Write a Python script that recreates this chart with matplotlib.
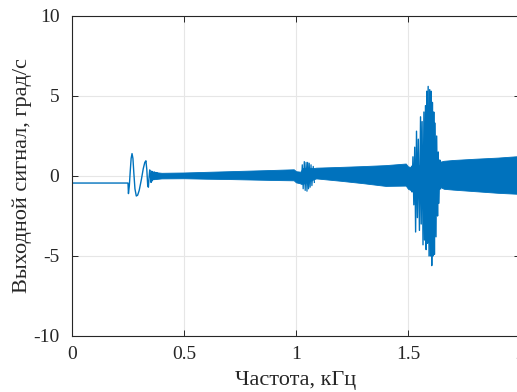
import numpy as np
import matplotlib
matplotlib.use("Agg")
import matplotlib.pyplot as plt

plt.rcParams['font.family'] = ['Liberation Serif', 'DejaVu Serif']
plt.rcParams['axes.unicode_minus'] = False

# start-up transient (frequency kHz, output deg/s)
trans_f = [0.0, 0.250, 0.252, 0.256, 0.260, 0.264, 0.268, 0.272, 0.276, 0.281,
           0.287, 0.293, 0.300, 0.310, 0.318, 0.325, 0.330, 0.334, 0.338, 0.341,
           0.344, 0.347, 0.350, 0.353, 0.356, 0.359, 0.362, 0.365, 0.368, 0.371,
           0.374, 0.377, 0.380]
trans_v = [-0.44, -0.44, -1.1, -0.6, 0.3, 1.1, 1.4, 1.1, 0.2, -0.8,
           -1.25, -1.2, -0.9, -0.2, 0.45, 0.85, 0.95, 0.4, -0.6, -0.7,
           -0.1, 0.38, 0.0, -0.4, 0.3, -0.3, 0.25, -0.2, 0.25, -0.15,
           0.22, -0.15, 0.2]

# envelope of the dense oscillation band
band_f = [0.365, 0.40, 0.50, 0.60, 0.70, 0.80, 0.90, 0.99, 1.00, 1.02, 1.03,
          1.08, 1.09, 1.20, 1.30, 1.40, 1.49, 1.50, 1.515, 1.52, 1.645, 1.66,
          1.70, 1.80, 1.90, 2.00]
band_hi = [0.25, 0.2, 0.22, 0.26, 0.3, 0.34, 0.38, 0.42, 0.3, 0.27, 0.5,
           0.5, 0.52, 0.57, 0.62, 0.68, 0.78, 0.6, 0.55, 0.6, 0.9, 0.95,
           1.0, 1.08, 1.15, 1.25]
band_lo = [-0.2, -0.15, -0.14, -0.17, -0.19, -0.22, -0.25, -0.27, -0.4, -0.46, -0.5,
           -0.2, -0.15, -0.3, -0.45, -0.62, -0.6, -0.8, -0.9, -0.6, -0.7, -0.8,
           -0.85, -0.95, -1.05, -1.12]

# resonance near 1 kHz
res1_f = [1.024, 1.028, 1.032, 1.037, 1.041, 1.045, 1.049, 1.052, 1.056, 1.059,
          1.063, 1.067, 1.071, 1.077, 1.082]
res1_v = [-0.5, 0.7, -0.8, 0.9, -0.9, 0.85, -0.95, 0.85, -0.8, 0.8,
          -0.7, 0.7, -0.6, 0.6, -0.4]

# resonance near 1.6 kHz
res2_f = [1.516, 1.518, 1.522, 1.526, 1.530, 1.534, 1.538, 1.542, 1.546, 1.551,
          1.556, 1.559, 1.563, 1.567, 1.571, 1.574, 1.578, 1.581, 1.584, 1.587,
          1.590, 1.594, 1.597, 1.601, 1.603, 1.606, 1.609, 1.612, 1.615, 1.618,
          1.621, 1.625, 1.628, 1.632, 1.635, 1.638, 1.642, 1.645]
res2_v = [0.6, -1.0, 1.2, -1.8, 1.8, -3.5, 2.8, -2.6, 2.3, -3.4,
          3.7, -3.0, 3.4, -4.3, 4.0, -4.0, 4.4, -4.6, 5.3, -4.2,
          5.6, -5.0, 5.4, -5.0, 5.3, -5.6, 4.6, -5.0, 4.0, -4.9,
          3.3, -3.8, 2.5, -2.5, 1.5, -1.7, 1.0, -0.8]

blue = '#0072BD'

fig = plt.figure(figsize=(5.17, 3.92), dpi=100)
ax = fig.add_axes([72 / 517, 56 / 392, 448 / 517, 320 / 392])

ax.fill_between(band_f, band_lo, band_hi, color=blue, linewidth=0.6, edgecolor=blue)
ax.plot(trans_f, trans_v, color=blue, linewidth=1.0)
ax.plot(res1_f, res1_v, color=blue, linewidth=0.9)
ax.plot(res2_f, res2_v, color=blue, linewidth=1.0)

ax.set_xlim(0, 2)
ax.set_ylim(-10, 10)
ax.set_xticks([0, 0.5, 1, 1.5, 2])
ax.set_xticklabels(['0', '0.5', '1', '1.5', '2'])
ax.set_yticks([-10, -5, 0, 5, 10])
ax.grid(True, color='#e6e6e6', linewidth=0.8)
ax.set_axisbelow(True)
ax.tick_params(direction='in', length=4, width=0.7, colors='#262626',
               labelsize=14, labelcolor='#262626', top=True, right=True)
ax.tick_params(axis='x', pad=7)
ax.tick_params(axis='y', pad=9)
for s in ax.spines.values():
    s.set_color('#262626')
    s.set_linewidth(0.8)

ax.set_xlabel('Частота, кГц', fontsize=16, color='#262626', labelpad=6)
ax.set_ylabel('Выходной сигнал, град/с', fontsize=16, color='#262626', labelpad=1)

fig.savefig('out.png', dpi=100)
